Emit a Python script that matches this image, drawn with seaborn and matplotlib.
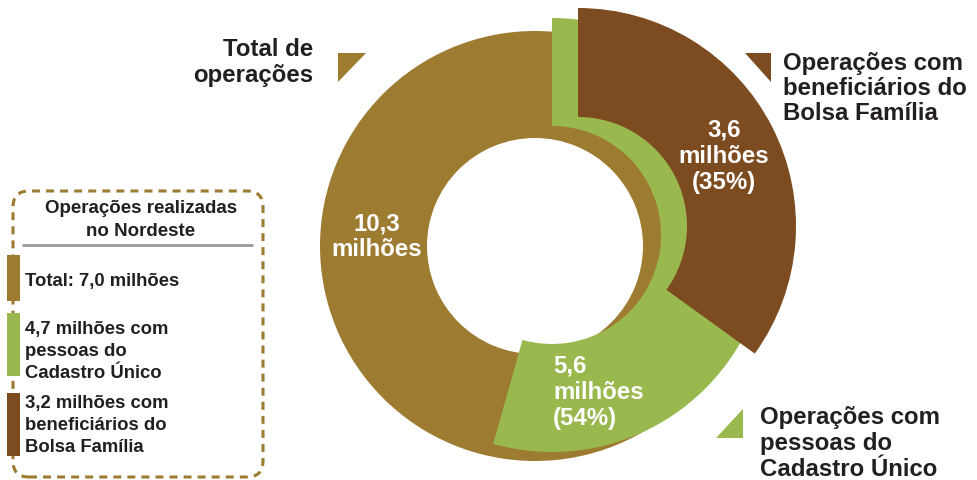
import matplotlib
matplotlib.use("Agg")
import matplotlib.pyplot as plt
from matplotlib.patches import FancyBboxPatch, Polygon
import seaborn as sns

# ---------------- data ----------------
total_ops = 10.3          # milhões - total de operações
cadastro_ops = 5.6        # milhões - operações com pessoas do Cadastro Único
bolsa_ops = 3.6           # milhões - operações com beneficiários do Bolsa Família
ne_values = [7.0, 4.7, 3.2]
ne_labels = ["Total: {} milhões", "{} milhões com\npessoas do\nCadastro Único",
             "{} milhões com\nbeneficiários do\nBolsa Família"]
series_names = ["Total de\noperações",
                "Operações com\npessoas do\nCadastro Único",
                "Operações com\nbeneficiários do\nBolsa Família"]
legend_title = "Operações realizadas\nno Nordeste"

# ---------------- style ----------------
sns.set_theme(style="white")
plt.rcParams["font.family"] = ["Liberation Sans", "DejaVu Sans"]
plt.rcParams["font.weight"] = "bold"

GOLD, GREEN, BROWN = "#9D7B31", "#99B84E", "#7D4B20"
DARK, GRAY = "#231F20", "#9A9A9A"
W, H = 977, 481


def Y(py):
    return H - py


def fmt(v):
    return f"{v:.1f}".replace(".", ",")


fig = plt.figure(figsize=(W / 100, H / 100), dpi=100)
ax = fig.add_axes([0, 0, 1, 1])

# total ring
ax.pie([total_ops], colors=[GOLD], startangle=90, counterclock=False,
       center=(535, Y(247)), radius=215, wedgeprops=dict(width=107, linewidth=0))
# Cadastro Único wedge
ax.pie([cadastro_ops, total_ops - cadastro_ops], colors=[GREEN, "none"],
       startangle=90, counterclock=False, center=(552, Y(236)), radius=217,
       wedgeprops=dict(width=108, linewidth=0))
# Bolsa Família wedge
ax.pie([bolsa_ops, total_ops - bolsa_ops], colors=[BROWN, "none"],
       startangle=90, counterclock=False, center=(578, Y(227)), radius=218,
       wedgeprops=dict(width=109, linewidth=0))

ax.set_xlim(0, W)
ax.set_ylim(0, H)
ax.set_aspect("equal")
ax.axis("off")

big = 17.3
# values inside the ring
def lines(x, baselines, texts, ha, size, color, **kw):
    for b, t in zip(baselines, texts):
        ax.text(x, Y(b), t, ha=ha, va="baseline", fontsize=size,
                color=color, fontweight="bold", **kw)

lines(377, [231, 256], [fmt(total_ops), "milhões"], "center", big, "white")
lines(724, [137, 163, 189],
      [fmt(bolsa_ops), "milhões", f"({bolsa_ops / total_ops:.0%})"],
      "center", big, "white")
lines(553, [373, 399, 425],
      [fmt(cadastro_ops), "milhões", f"({cadastro_ops / total_ops:.0%})"],
      "left", big, "white")

# series callouts
lines(313, [56, 82], series_names[0].split("\n"), "right", big, DARK)
lines(760, [424, 450, 476], series_names[1].split("\n"), "left", big, DARK)
lines(783, [70, 95, 120], series_names[2].split("\n"), "left", big, DARK)

# pointer triangles
tri = [([(338, 54), (366, 54), (338, 83)], GOLD),
       ([(745, 54), (771, 54), (771, 83)], BROWN),
       ([(716, 439), (743, 439), (743, 410)], GREEN)]
for pts, c in tri:
    ax.add_patch(Polygon([(x, Y(y)) for x, y in pts], closed=True,
                         facecolor=c, edgecolor="none"))

# Nordeste legend box
box = FancyBboxPatch((13, Y(478)), 250, 478 - 192,
                     boxstyle="round,pad=0,rounding_size=16",
                     facecolor="none", edgecolor=GOLD, linewidth=2.2,
                     linestyle=(0, (2.6, 2.0)))
ax.add_patch(box)
lines(141, [213, 236], legend_title.split("\n"), "center", 13.5, DARK)
ax.plot([22, 253], [Y(246), Y(246)], color=GRAY, linewidth=2, solid_capstyle="butt")

sw_colors = [GOLD, GREEN, BROWN]
sw_spans = [(256, 302), (314, 377), (394, 457)]
txt_bases = [[286], [334, 356, 378], [408, 430, 452]]
for v, lab, c, (t, b), bases in zip(ne_values, ne_labels, sw_colors, sw_spans, txt_bases):
    ax.bar(13.5, b - t, width=13, bottom=Y(b), color=c, linewidth=0)
    lines(25, bases, lab.format(fmt(v)).split("\n"), "left", 13.3, DARK)

fig.savefig("out.png", dpi=100)
